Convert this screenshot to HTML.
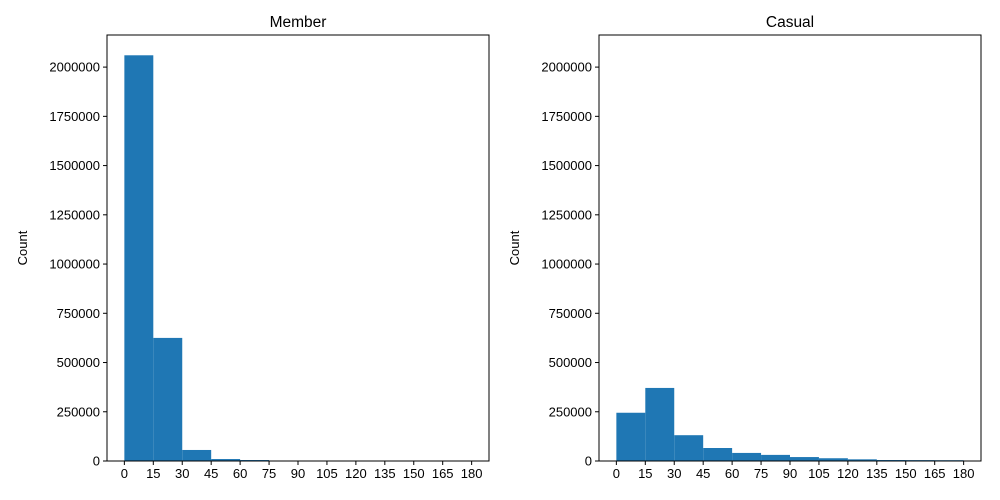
<!DOCTYPE html>
<html><head><meta charset="utf-8"><style>
body{margin:0;background:#fff;}
svg{display:block;font-family:"Liberation Sans","DejaVu Sans",sans-serif;}
</style></head><body>
<svg id="chart" width="1000" height="500"></svg>
<script>
const bins = [0,15,30,45,60,75,90,105,120,135,150,165,180];
const xTicks = [0,15,30,45,60,75,90,105,120,135,150,165,180];
const yTicks = [0,250000,500000,750000,1000000,1250000,1500000,1750000,2000000];
const memberCounts = [2060000,625000,56000,10000,5000,1500,800,500,300,200,150,100];
const casualCounts = [245000,371000,131000,66000,41000,31000,20000,14000,8500,5000,4500,4000];
const panelTitles = ["Member","Casual"];

const NS="http://www.w3.org/2000/svg";
const svgEl=document.getElementById('chart');
function mk(tag,attrs,parent){const e=document.createElementNS(NS,tag);for(const k in attrs)e.setAttribute(k,attrs[k]);(parent||svgEl).appendChild(e);return e;}
const plotTop=35,plotBottom=461;
const xmin=-9,xmax=189,ymax=2163000;
function drawPanel(left,right,counts,title,key){
  const g=mk('g',{});
  
  
  const sx=v=>left+(v-xmin)/(xmax-xmin)*(right-left);
  const sy=v=>plotBottom-v/ymax*(plotBottom-plotTop);
  counts.forEach((c,i)=>{
    const r=mk('rect',{x:sx(bins[i]),y:sy(c),width:sx(bins[i+1])-sx(bins[i]),height:plotBottom-sy(c),fill:'#1f77b4'},g);
    
    
  });
  const fr=mk('rect',{x:left,y:plotTop,width:right-left,height:plotBottom-plotTop,fill:'none',stroke:'#000','stroke-width':1},g);
  
  
  xTicks.forEach(t=>{
    const x=sx(t);
    mk('line',{x1:x,x2:x,y1:plotBottom,y2:plotBottom+4,stroke:'#000'},g);
    const tx=mk('text',{x:x,y:plotBottom+17,'font-size':13,'text-anchor':'middle'},g);
    tx.textContent=t;
    
    
  });
  yTicks.forEach(t=>{
    const y=sy(t);
    mk('line',{x1:left-4,x2:left,y1:y,y2:y,stroke:'#000'},g);
    const tx=mk('text',{x:left-7,y:y+4.5,'font-size':13,'text-anchor':'end'},g);
    tx.textContent=t;
    
    
  });
  const yl=mk('text',{x:0,y:0,'font-size':13,'text-anchor':'middle',transform:`translate(${left-80},${(plotTop+plotBottom)/2}) rotate(-90)`},g);
  yl.textContent='Count';
  
  
  const tt=mk('text',{x:(left+right)/2,y:27,'font-size':15.5,'text-anchor':'middle'},g);
  tt.textContent=title;
  
  
}
drawPanel(107,489,memberCounts,panelTitles[0],'member');
drawPanel(599,981,casualCounts,panelTitles[1],'casual');
</script>
</body></html>
